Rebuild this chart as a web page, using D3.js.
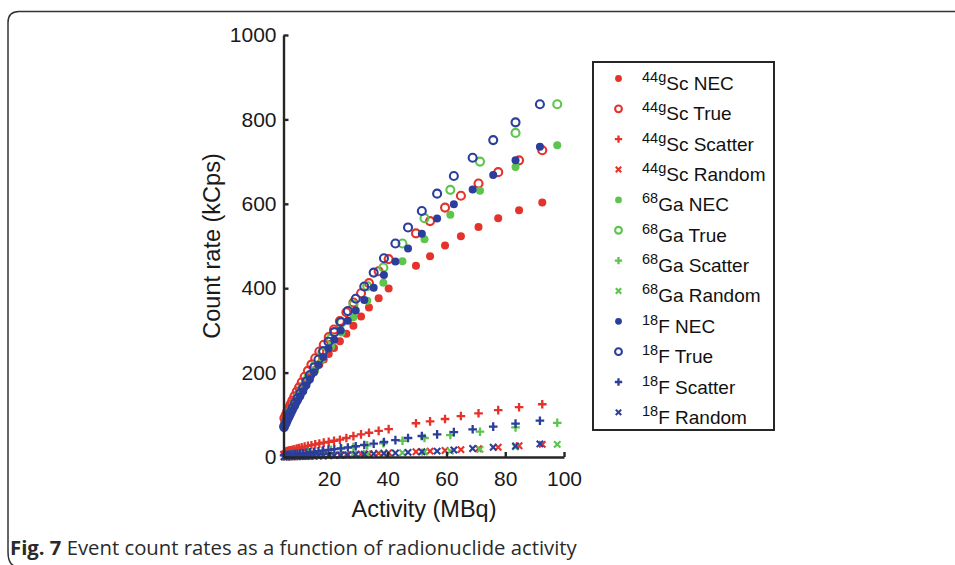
<!DOCTYPE html>
<html>
<head>
<meta charset="utf-8">
<script src="https://cdn.jsdelivr.net/npm/d3@7"></script>
<style>
	body { margin: 0; background: #fff; }
	svg { display: block; }
	.axis path, .axis line { stroke: #262626; stroke-width: 2.4; }
	.axis text { font-family: "Liberation Sans", Arial, sans-serif; font-size: 21px; fill: #1a1a1a; }
</style>
</head>
<body>
<div id="chart"></div>
<script>
'use strict';

// Aktivitás (MBq) és beütésszámok (kCps) nuklidonként.
var scActivity = [4.8, 5.3, 5.8, 6.3, 6.9, 7.5, 8.2, 9.0, 9.8, 10.7, 11.7, 12.8, 14.0, 15.3, 16.7, 18.2, 19.9, 21.7, 23.7, 25.9, 28.3, 30.9, 33.6, 36.9, 40.3, 49.6, 54.4, 59.5, 64.9, 70.9, 77.6, 84.7, 92.6];
var scNec = [86, 93, 100, 107, 115, 123, 132, 142, 151, 161, 172, 183, 195, 207, 219, 231, 244, 258, 274, 292, 311, 333, 354, 376, 399, 453, 476, 501, 523, 545, 566, 585, 603];
var scTrue = [92, 100, 108, 116, 125, 134, 144, 155, 165, 177, 190, 204, 219, 234, 250, 266, 284, 302, 322, 343, 366, 388, 412, 440, 469, 530, 559, 591, 619, 648, 675, 703, 727];
var scScatter = [12, 13, 14, 15, 16, 17, 18.5, 20, 21.5, 23, 24.5, 26.5, 28, 30, 32, 34, 36, 38.5, 41, 45, 49.5, 53.5, 57.5, 62, 66, 80, 84.5, 90, 97, 103.5, 111, 118, 125];
var scRandom = [0.6, 0.65, 0.7, 0.8, 0.9, 1.0, 1.1, 1.3, 1.4, 1.6, 1.8, 2.0, 2.3, 2.6, 2.9, 3.3, 3.7, 4.2, 4.8, 5.5, 6.2, 7, 8, 9, 10, 12.5, 14, 15.5, 17.5, 19.5, 23, 26.5, 30];

var gaActivity = [5.1, 6.0, 7.0, 8.2, 9.5, 11.1, 13.0, 15.2, 17.7, 20.7, 24.2, 28.3, 33.0, 38.5, 45.0, 52.5, 61.3, 71.4, 83.5, 97.7];
var gaNec = [77, 91, 105, 121, 138, 158, 181, 205, 232, 262, 295, 331, 370, 413, 464, 516, 574, 631, 687, 739];
var gaTrue = [80, 94, 109, 126, 144, 165, 190, 217, 247, 281, 319, 361, 405, 449, 506, 566, 633, 700, 768, 836];
var gaScatter = [4.1, 4.8, 5.6, 6.6, 7.7, 9, 10.6, 12.4, 14.5, 17, 20, 23.5, 27.5, 32.5, 38.5, 45, 52, 60, 70, 81];
var gaRandom = [0.8, 0.9, 1.1, 1.3, 1.6, 1.9, 2.3, 2.7, 3.3, 4, 4.8, 5.8, 7, 8.3, 10, 12, 14, 18, 24, 30];

var fActivity = [4.7, 5.2, 5.7, 6.3, 6.9, 7.6, 8.4, 9.3, 10.2, 11.2, 12.3, 13.5, 14.9, 16.4, 18.0, 19.8, 21.8, 24.0, 26.4, 29.1, 32.0, 35.2, 38.7, 42.6, 46.9, 51.6, 56.8, 62.5, 68.9, 75.9, 83.5, 91.8];
var fNec = [69, 77, 84, 93, 101, 111, 121, 133, 144, 156, 170, 184, 201, 218, 237, 257, 278, 300, 323, 347, 372, 401, 431, 463, 494, 529, 565, 599, 634, 668, 703, 735];
var fTrue = [72, 80, 88, 97, 106, 116, 127, 139, 151, 164, 179, 194, 212, 231, 251, 273, 296, 320, 346, 375, 404, 437, 471, 506, 544, 583, 624, 666, 709, 751, 793, 836];
var fScatter = [4, 4.4, 4.8, 5.3, 5.8, 6.4, 7, 7.8, 8.5, 9.4, 10.3, 11.3, 12.5, 13.8, 15.2, 16.8, 18.5, 20.5, 22.5, 25.5, 28.4, 31.5, 35.5, 40, 45, 49.8, 53.7, 59, 65.6, 72, 79, 86];
var fRandom = [0.55, 0.6, 0.7, 0.8, 0.9, 1.0, 1.1, 1.2, 1.4, 1.6, 1.8, 2.0, 2.3, 2.6, 3, 3.4, 3.9, 4.5, 5.1, 5.8, 6.6, 7.5, 8.5, 9.5, 11, 12.5, 14, 16.6, 20, 23, 26, 31];

var xTicks = [20, 40, 60, 80, 100];
var yTicks = [0, 200, 400, 600, 800, 1000];

var nuclides = [
	{sup: "44g", name: "Sc", color: "#e5322a", x: scActivity, nec: scNec, tru: scTrue, scatter: scScatter, random: scRandom},
	{sup: "68", name: "Ga", color: "#5dc44d", x: gaActivity, nec: gaNec, tru: gaTrue, scatter: gaScatter, random: gaRandom},
	{sup: "18", name: "F", color: "#2c3e9c", x: fActivity, nec: fNec, tru: fTrue, scatter: fScatter, random: fRandom}
];
var kinds = [
	{key: "nec", label: "NEC"},
	{key: "tru", label: "True"},
	{key: "scatter", label: "Scatter"},
	{key: "random", label: "Random"}
];

var W = 955, H = 565;

var svg = d3.select("#chart").append("svg:svg")
		.attr("width", W)
		.attr("height", H);

// Keret a kép körül.
svg.append("svg:path")
		.attr("d", "M955,11.5H19Q8,11.5 8,22.5V552Q8,563 14,566")
		.attr("fill", "none")
		.attr("stroke", "#333")
		.attr("stroke-width", 1.5);

var x = d3.scaleLinear().domain([4.5, 100]).range([283.5, 564]);
var y = d3.scaleLinear().domain([0, 1000]).range([457, 35]);

/**
 * Egy jelölő kirajzolása a megadott g-be.
 */
function drawMarker(g, kind, color, s) {
	s = s || 1;
	if (kind === "nec") {
		g.append("svg:circle").attr("r", 4 * s).attr("fill", color);
	} else if (kind === "tru") {
		g.append("svg:circle").attr("r", 4 * s)
				.attr("fill", "none")
				.attr("stroke", color)
				.attr("stroke-width", 2.1);
	} else if (kind === "scatter") {
		var a = 4.3 * s;
		g.append("svg:path").attr("d", "M" + (-a) + ",0H" + a + "M0," + (-a) + "V" + a)
				.attr("stroke", color)
				.attr("stroke-width", 2.3);
	} else {
		var b = 3.2 * s;
		g.append("svg:path").attr("d", "M" + (-b) + "," + (-b) + "L" + b + "," + b + "M" + (-b) + "," + b + "L" + b + "," + (-b))
				.attr("stroke", color)
				.attr("stroke-width", 2.1);
	}
}

// Adatpontok, a MATLAB-os rajzolási sorrendben.
var gData = svg.append("svg:g").attr("class", "data");
nuclides.forEach(function(n) {
	kinds.forEach(function(k) {
		var pts = d3.zip(n.x, n[k.key]);
		gData.append("svg:g")
				.selectAll("g").data(pts)
				.enter().append("svg:g")
				.attr("transform", function(d) {
					return "translate(" + x(d[0]) + "," + y(d[1]) + ")";
				})
				.each(function() {
					drawMarker(d3.select(this), k.key, n.color);
				});
	});
});

// Tengelyek.
svg.append("svg:g")
		.attr("class", "axis")
		.attr("transform", "translate(0,457)")
		.call(d3.axisBottom(x).tickValues(xTicks).tickFormat(d3.format("d")).tickSize(-5).tickSizeOuter(0).tickPadding(14));

svg.append("svg:g")
		.attr("class", "axis")
		.attr("transform", "translate(283.5,0)")
		.call(d3.axisLeft(y).tickValues(yTicks).tickFormat(d3.format("d")).tickSize(-5).tickSizeOuter(0).tickPadding(7));

svg.append("svg:text")
		.attr("x", 424)
		.attr("y", 517)
		.attr("text-anchor", "middle")
		.attr("font-family", "'Liberation Sans', Arial, sans-serif")
		.attr("font-size", 23.5)
		.attr("fill", "#1a1a1a")
		.text("Activity (MBq)");

svg.append("svg:text")
		.attr("transform", "translate(220,246) rotate(-90)")
		.attr("text-anchor", "middle")
		.attr("font-family", "'Liberation Sans', Arial, sans-serif")
		.attr("font-size", 23.5)
		.attr("fill", "#1a1a1a")
		.text("Count rate (kCps)");

// Jelkulcs.
var gLegend = svg.append("svg:g").attr("class", "legend");
gLegend.append("svg:rect")
		.attr("x", 593)
		.attr("y", 62)
		.attr("width", 181)
		.attr("height", 368)
		.attr("fill", "#fff")
		.attr("stroke", "#262626")
		.attr("stroke-width", 2);

var row = 0;
nuclides.forEach(function(n) {
	kinds.forEach(function(k) {
		var base = 90 + row * 30.35;
		var gm = gLegend.append("svg:g").attr("transform", "translate(618.5," + (base - 11.5) + ")");
		drawMarker(gm, k.key, n.color, 0.85);
		var t = gLegend.append("svg:text")
				.attr("x", 642)
				.attr("y", base)
				.attr("font-family", "'Liberation Sans', Arial, sans-serif")
				.attr("fill", "#111");
		t.append("svg:tspan").attr("font-size", 14.5).attr("dy", -8).text(n.sup);
		t.append("svg:tspan").attr("font-size", 19).attr("dy", 8).text(n.name + " " + k.label);
		row++;
	});
});

// Ábraaláírás.
var cap = svg.append("svg:text")
		.attr("x", 10)
		.attr("y", 555)
		.attr("font-family", "'Open Sans', 'Noto Sans', sans-serif")
		.attr("font-size", 20.3)
		.attr("fill", "#2a2a2a");
cap.append("svg:tspan").attr("font-weight", "bold").text("Fig. 7");
cap.append("svg:tspan").text(" Event count rates as a function of radionuclide activity");
</script>
</body>
</html>
